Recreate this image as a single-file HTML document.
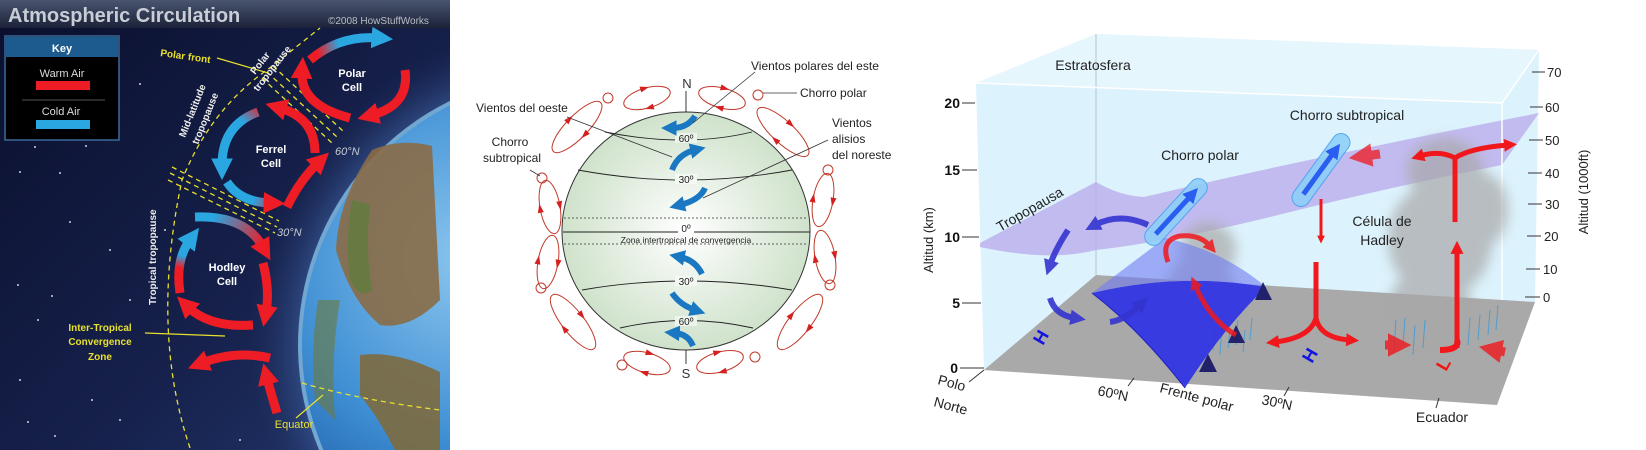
<!DOCTYPE html>
<html><head><meta charset="utf-8"><style>
html,body{margin:0;padding:0;background:#fff;width:1646px;height:450px;overflow:hidden;}
svg{display:block;}
text{font-family:"Liberation Sans","DejaVu Sans",sans-serif;}
</style></head><body>
<svg width="1646" height="450" viewBox="0 0 1646 450" xmlns="http://www.w3.org/2000/svg">
<defs>
<linearGradient id="space" x1="0" y1="0" x2="1" y2="1"><stop offset="0" stop-color="#0a0f2c"/><stop offset="0.6" stop-color="#16214c"/><stop offset="1" stop-color="#24386e"/></linearGradient>
<radialGradient id="glow" cx="570" cy="345" r="330" gradientUnits="userSpaceOnUse"><stop offset="0.78" stop-color="#3b5d9c" stop-opacity="0.9"/><stop offset="1" stop-color="#16214c" stop-opacity="0"/></radialGradient>
<radialGradient id="ocean" cx="470" cy="260" r="300" gradientUnits="userSpaceOnUse"><stop offset="0" stop-color="#8cc6ee"/><stop offset="0.6" stop-color="#3f8fd4"/><stop offset="1" stop-color="#1c5aa6"/></radialGradient>
<linearGradient id="title" x1="0" y1="0" x2="0" y2="1"><stop offset="0" stop-color="#4a5570"/><stop offset="1" stop-color="#1b2238"/></linearGradient>
<radialGradient id="globe" cx="0.5" cy="0.5" r="0.5"><stop offset="0" stop-color="#ffffff"/><stop offset="1" stop-color="#cfe2cb"/></radialGradient>
<filter id="blur" x="-50%" y="-50%" width="200%" height="200%"><feGaussianBlur stdDeviation="6"/></filter>
<marker id="ar" viewBox="0 0 10 10" refX="3" refY="5" markerWidth="2.4" markerHeight="2.4" orient="auto"><path d="M0,0L10,5L0,10z" fill="#ee1c25"/></marker>
<marker id="ab" viewBox="0 0 10 10" refX="3" refY="5" markerWidth="2.4" markerHeight="2.4" orient="auto"><path d="M0,0L10,5L0,10z" fill="#2aa6e0"/></marker>
<marker id="mb" viewBox="0 0 10 10" refX="3" refY="5" markerWidth="2.6" markerHeight="2.6" orient="auto"><path d="M0,0L10,5L0,10z" fill="#1a78c2"/></marker>
<marker id="rr" viewBox="0 0 10 10" refX="3" refY="5" markerWidth="2.6" markerHeight="2.6" orient="auto"><path d="M0,0L10,5L0,10z" fill="#f0181c"/></marker>
<marker id="bb" viewBox="0 0 10 10" refX="3" refY="5" markerWidth="2.6" markerHeight="2.6" orient="auto"><path d="M0,0L10,5L0,10z" fill="#3434d0"/></marker>
<marker id="jb" viewBox="0 0 10 10" refX="3" refY="5" markerWidth="3" markerHeight="3" orient="auto"><path d="M0,0L10,5L0,10z" fill="#2a5ef0"/></marker>
<linearGradient id="br1" gradientUnits="userSpaceOnUse" x1="300" y1="60" x2="390" y2="37"><stop offset="0.2" stop-color="#ee1c25"/><stop offset="0.45" stop-color="#2aa6e0"/></linearGradient>
<linearGradient id="br2" gradientUnits="userSpaceOnUse" x1="267" y1="110" x2="220" y2="173"><stop offset="0" stop-color="#ee1c25"/><stop offset="0.3" stop-color="#2aa6e0"/></linearGradient>
<linearGradient id="br3" gradientUnits="userSpaceOnUse" x1="227" y1="182" x2="285" y2="203"><stop offset="0.5" stop-color="#2aa6e0"/><stop offset="1" stop-color="#ee1c25"/></linearGradient>
<linearGradient id="br4" gradientUnits="userSpaceOnUse" x1="195" y1="217" x2="268" y2="255"><stop offset="0.2" stop-color="#2aa6e0"/><stop offset="0.9" stop-color="#ee1c25"/></linearGradient>
<linearGradient id="br5" gradientUnits="userSpaceOnUse" x1="180" y1="293" x2="193" y2="233"><stop offset="0.4" stop-color="#ee1c25"/><stop offset="0.6" stop-color="#2aa6e0"/></linearGradient>
</defs>

<!-- ================= LEFT PANEL ================= -->
<g>
<rect x="0" y="0" width="450" height="450" fill="url(#space)"/>
<rect x="0" y="0" width="450" height="450" fill="url(#glow)"/>
<g fill="#fff" opacity="0.8">
<circle cx="20" cy="172" r="1"/><circle cx="60" cy="173" r="1"/><circle cx="35" cy="147" r="1"/><circle cx="86" cy="146" r="1"/><circle cx="18" cy="285" r="1"/><circle cx="52" cy="296" r="1"/><circle cx="38" cy="320" r="1"/><circle cx="20" cy="380" r="1"/><circle cx="92" cy="400" r="1"/><circle cx="28" cy="422" r="1"/><circle cx="55" cy="436" r="1"/><circle cx="140" cy="84" r="1"/><circle cx="165" cy="230" r="1"/><circle cx="130" cy="300" r="1"/><circle cx="120" cy="420" r="1"/><circle cx="240" cy="440" r="1"/><circle cx="70" cy="222" r="1"/><circle cx="110" cy="250" r="1"/>
</g>
<path d="M319.1,450 A272,272 0 0 1 450,100.9 L450,450 Z" fill="#8fd0f4" opacity="0.7"/>
<path d="M323.4,450 A268,268 0 0 1 450,105.4 L450,450 Z" fill="url(#ocean)"/>
<path d="M372,150 Q400,138 432,146 L440,300 Q410,330 380,325 Q350,300 336,250 Q338,200 372,150Z" fill="#8a6b46" opacity="0.9"/>
<path d="M352,200 Q345,240 350,280 Q360,300 372,290 Q365,250 370,205Z" fill="#5f7d3c" opacity="0.8"/>
<path d="M360,355 Q395,350 440,372 L440,450 L395,450 Q380,420 360,395Z" fill="#7d6a3f" opacity="0.9"/>
<path d="M318,300 Q310,350 315,400 L335,420 Q330,360 340,300Z" fill="#6d7a3c" opacity="0.6"/>
<rect x="0" y="0" width="450" height="28" fill="url(#title)"/>
<text x="8" y="22" font-size="20" font-weight="bold" fill="#c9cdd6">Atmospheric Circulation</text>
<text x="328" y="24" font-size="10" fill="#b8bcc6">©2008 HowStuffWorks</text>
<rect x="5" y="36" width="114" height="104" fill="#000" stroke="#3a6a9a" stroke-width="1.5"/>
<rect x="6" y="37" width="112" height="20" fill="#1d5a8e"/>
<text x="62" y="52" font-size="11" font-weight="bold" fill="#fff" text-anchor="middle">Key</text>
<text x="62" y="77" font-size="11" fill="#ddd" text-anchor="middle">Warm Air</text>
<rect x="36" y="81" width="54" height="9" fill="#ee1c25"/>
<line x1="22" y1="100" x2="105" y2="100" stroke="#555"/>
<text x="61" y="115" font-size="11" fill="#ddd" text-anchor="middle">Cold Air</text>
<rect x="36" y="120" width="54" height="9" fill="#2aa6e0"/>
<g fill="none" stroke="#e8e030" stroke-width="1.3" stroke-dasharray="5,4">
<path d="M190,448 Q150,330 182,180 Q210,110 267,70 Q295,48 320,28"/>
<path d="M267,72 L337,137"/><path d="M262,78 L332,143"/><path d="M273,66 L343,131"/>
<path d="M170,173 L277,227"/><path d="M168,180 L275,233"/><path d="M172,167 L279,221"/>
<path d="M302,383 Q360,400 440,410"/>
</g>
<line x1="145" y1="333" x2="225" y2="336" stroke="#e8e030" stroke-width="1.2"/>
<line x1="217" y1="58" x2="268" y2="73" stroke="#e8e030" stroke-width="1.2"/>
<line x1="296" y1="418" x2="323" y2="395" stroke="#e8e030" stroke-width="1.2"/>
<g fill="none" stroke-width="9">
<path d="M350,118 Q300,105 302,72" stroke="#ee1c25" marker-end="url(#ar)"/>
<path d="M310,60 Q340,35 378,38" stroke="url(#br1)" marker-end="url(#ab)"/>
<path d="M405,70 Q410,105 372,115" stroke="#ee1c25" marker-end="url(#ar)"/>
<path d="M315,153 Q315,118 280,108" stroke="#ee1c25" marker-end="url(#ar)"/>
<path d="M258,112 Q222,125 222,165" stroke="url(#br2)" marker-end="url(#ab)"/>
<path d="M227,182 Q240,202 270,203" stroke="url(#br3)" marker-end="url(#ar)"/>
<path d="M287,207 Q300,180 318,163" stroke="#ee1c25" marker-end="url(#ar)"/>
<path d="M195,217 Q245,215 263,247" stroke="url(#br4)" marker-end="url(#ar)"/>
<path d="M263,263 Q270,290 266,312" stroke="#ee1c25" marker-end="url(#ar)"/>
<path d="M253,325 Q210,328 188,307" stroke="#ee1c25" marker-end="url(#ar)"/>
<path d="M180,293 Q175,260 190,240" stroke="url(#br5)" marker-end="url(#ab)"/>
<path d="M270,358 Q235,350 202,363" stroke="#ee1c25" marker-end="url(#ar)"/>
<path d="M277,413 Q270,390 267,378" stroke="#ee1c25" marker-end="url(#ar)"/>
</g>
<g font-size="11" font-weight="bold" fill="#fff" text-anchor="middle">
<text x="352" y="77">Polar</text><text x="352" y="91">Cell</text>
<text x="271" y="153">Ferrel</text><text x="271" y="167">Cell</text>
<text x="227" y="271">Hodley</text><text x="227" y="285">Cell</text>
</g>
<text x="160" y="56" font-size="10" font-weight="bold" fill="#e8e030" transform="rotate(8 160 56)">Polar front</text>
<g font-size="10" font-weight="bold" fill="#e8e030" text-anchor="middle">
<text x="100" y="331">Inter-Tropical</text><text x="100" y="345">Convergence</text><text x="100" y="360">Zone</text>
</g>
<text x="294" y="428" font-size="11" fill="#e8e030" text-anchor="middle">Equator</text>
<g font-size="10" font-weight="bold" fill="#eee">
<text x="0" y="0" transform="translate(255,75) rotate(-52)">Polar</text>
<text x="0" y="0" transform="translate(258,92) rotate(-52)">tropopause</text>
<text x="0" y="0" transform="translate(185,138) rotate(-68)">Mid-latitude</text>
<text x="0" y="0" transform="translate(198,145) rotate(-68)">tropopause</text>
<text x="0" y="0" transform="translate(156,305) rotate(-90)">Tropical tropopause</text>
</g>
<text x="335" y="155" font-size="11" fill="#c8ccd6" font-style="italic">60°N</text>
<text x="277" y="236" font-size="11" fill="#c8ccd6" font-style="italic">30°N</text>
</g>

<!-- ================= MIDDLE PANEL ================= -->
<g>
<ellipse cx="686" cy="231" rx="124" ry="119" fill="url(#globe)" stroke="#333" stroke-width="1"/>
<g fill="none" stroke="#222" stroke-width="0.9">
<path d="M605,132 Q686,148 752,132"/>
<path d="M578,170 Q686,190 792,170"/>
<path d="M563,232 L810,232"/>
<path d="M582,290 Q686,272 792,290"/>
<path d="M620,328 Q686,313 753,328"/>
<line x1="686" y1="91" x2="686" y2="112"/>
<line x1="686" y1="350" x2="686" y2="364"/>
</g>
<g stroke="#333" stroke-width="0.8" stroke-dasharray="2,2"><line x1="564" y1="218" x2="808" y2="218"/><line x1="564" y1="244" x2="808" y2="244"/></g>
<g font-size="10" fill="#222" text-anchor="middle">
<rect x="675" y="133" width="22" height="10" fill="#edf4ec"/><text x="686" y="142">60º</text>
<rect x="675" y="174" width="22" height="10" fill="#f5f9f4"/><text x="686" y="183">30º</text>
<rect x="678" y="224" width="16" height="9" fill="#fff"/><text x="686" y="232">0º</text>
<text x="686" y="243" font-size="8.5">Zona intertropical de convergencia</text>
<rect x="675" y="276" width="22" height="10" fill="#f5f9f4"/><text x="686" y="285">30º</text>
<rect x="675" y="316" width="22" height="10" fill="#edf4ec"/><text x="686" y="325">60º</text>
</g>
<text x="687" y="88" font-size="13" fill="#333" text-anchor="middle">N</text>
<text x="686" y="378" font-size="13" fill="#333" text-anchor="middle">S</text>
<g fill="none" stroke="#1a78c2" stroke-width="6">
<path d="M695,116 Q688,128 672,128" marker-end="url(#mb)"/>
<path d="M672,170 Q678,154 695,150" marker-end="url(#mb)"/>
<path d="M705,188 Q700,200 680,205" marker-end="url(#mb)"/>
<path d="M702,274 Q695,260 680,257" marker-end="url(#mb)"/>
<path d="M672,293 Q680,305 695,310" marker-end="url(#mb)"/>
<path d="M693,346 Q688,334 675,333" marker-end="url(#mb)"/>
</g>
<g fill="none" stroke="#c0392b" stroke-width="1">
<g transform="translate(647,98) rotate(-16)"><ellipse rx="24" ry="10"/><path d="M-4,-13L5,-10L-4,-7z M4,7L-5,10L4,13z" fill="#d52020" stroke="none"/></g>
<g transform="translate(722,98) rotate(15)"><ellipse rx="24" ry="10"/><path d="M-4,-13L5,-10L-4,-7z M4,7L-5,10L4,13z" fill="#d52020" stroke="none"/></g>
<g transform="translate(577,127) rotate(-46)"><ellipse rx="34" ry="11"/><path d="M-4,-14L5,-11L-4,-8z M4,8L-5,11L4,14z" fill="#d52020" stroke="none"/></g>
<g transform="translate(783,132) rotate(43)"><ellipse rx="34" ry="11"/><path d="M-4,-14L5,-11L-4,-8z M4,8L-5,11L4,14z" fill="#d52020" stroke="none"/></g>
<g transform="translate(550,207) rotate(80)"><ellipse rx="27" ry="10"/><path d="M-4,-13L5,-10L-4,-7z M4,7L-5,10L4,13z" fill="#d52020" stroke="none"/></g>
<g transform="translate(823,200) rotate(-80)"><ellipse rx="27" ry="10"/><path d="M-4,-13L5,-10L-4,-7z M4,7L-5,10L4,13z" fill="#d52020" stroke="none"/></g>
<g transform="translate(548,262) rotate(100)"><ellipse rx="27" ry="10"/><path d="M-4,-13L5,-10L-4,-7z M4,7L-5,10L4,13z" fill="#d52020" stroke="none"/></g>
<g transform="translate(825,257) rotate(-100)"><ellipse rx="27" ry="10"/><path d="M-4,-13L5,-10L-4,-7z M4,7L-5,10L4,13z" fill="#d52020" stroke="none"/></g>
<g transform="translate(573,322) rotate(52)"><ellipse rx="34" ry="11"/><path d="M-4,-14L5,-11L-4,-8z M4,8L-5,11L4,14z" fill="#d52020" stroke="none"/></g>
<g transform="translate(800,322) rotate(-52)"><ellipse rx="34" ry="11"/><path d="M-4,-14L5,-11L-4,-8z M4,8L-5,11L4,14z" fill="#d52020" stroke="none"/></g>
<g transform="translate(647,363) rotate(16)"><ellipse rx="24" ry="10"/><path d="M-4,-13L5,-10L-4,-7z M4,7L-5,10L4,13z" fill="#d52020" stroke="none"/></g>
<g transform="translate(720,362) rotate(-15)"><ellipse rx="24" ry="10"/><path d="M-4,-13L5,-10L-4,-7z M4,7L-5,10L4,13z" fill="#d52020" stroke="none"/></g>
<circle cx="608" cy="98" r="5"/><circle cx="758" cy="95" r="5"/><circle cx="542" cy="178" r="5"/><circle cx="828" cy="170" r="5"/><circle cx="830" cy="285" r="5"/><circle cx="541" cy="288" r="5"/><circle cx="622" cy="365" r="5"/><circle cx="755" cy="357" r="5"/>
</g>
<g stroke="#333" stroke-width="0.8" fill="none">
<line x1="755" y1="72" x2="693" y2="123"/>
<line x1="763" y1="93" x2="797" y2="93"/>
<line x1="567" y1="117" x2="672" y2="157"/>
<line x1="828" y1="140" x2="703" y2="198"/>
<line x1="530" y1="170" x2="540" y2="176"/>
</g>
<g font-size="12" fill="#222">
<text x="751" y="70">Vientos polares del este</text>
<text x="800" y="97">Chorro polar</text>
<text x="832" y="127">Vientos</text><text x="832" y="143">alisios</text><text x="832" y="159">del noreste</text>
<text x="476" y="112">Vientos del oeste</text>
<text x="510" y="146" text-anchor="middle">Chorro</text><text x="512" y="162" text-anchor="middle">subtropical</text>
</g>
</g>

<!-- ================= RIGHT PANEL ================= -->
<g>
<polygon points="976,83 1096,34 1539,50 1535,302 984,370" fill="#dcf2fc"/>
<polygon points="976,83 1096,34 1539,50 1502,103" fill="#e6f6fd"/>
<line x1="1096" y1="34" x2="1096" y2="275" stroke="#b8c4cc" stroke-width="1"/>
<polygon points="984,370 1096,275 1535,302 1497,405" fill="#a9a9a9"/>
<path d="M980,243 L1096,182 Q1120,196 1144,197 Q1300,160 1539,113 L1502,165 Q1400,185 1286,213 Q1180,240 1096,250 Q1050,262 980,247 Z" fill="#b9a8ec" opacity="0.75"/>
<g stroke="#fff" stroke-width="1.5" fill="none"><polyline points="976,83 1502,103 1539,50"/><line x1="1502" y1="103" x2="1502" y2="300"/></g>
<g filter="url(#blur)" fill="#a8a8a8" opacity="0.7">
<ellipse cx="1208" cy="250" rx="28" ry="28"/><ellipse cx="1200" cy="300" rx="36" ry="48"/><ellipse cx="1225" cy="330" rx="28" ry="32"/>
<ellipse cx="1445" cy="170" rx="38" ry="32"/><ellipse cx="1440" cy="240" rx="52" ry="58"/><ellipse cx="1430" cy="310" rx="42" ry="42"/><ellipse cx="1480" cy="210" rx="28" ry="38"/>
</g>
<g stroke="#3a9ad8" stroke-width="1" opacity="0.8">
<line x1="1215" y1="330" x2="1213" y2="350"/><line x1="1222" y1="325" x2="1220" y2="355"/><line x1="1230" y1="330" x2="1228" y2="348"/><line x1="1238" y1="320" x2="1236" y2="345"/><line x1="1245" y1="330" x2="1243" y2="352"/><line x1="1252" y1="318" x2="1250" y2="340"/>
<line x1="1396" y1="320" x2="1394" y2="350"/><line x1="1405" y1="318" x2="1403" y2="345"/><line x1="1415" y1="325" x2="1413" y2="355"/><line x1="1425" y1="320" x2="1423" y2="348"/><line x1="1470" y1="318" x2="1468" y2="345"/><line x1="1480" y1="315" x2="1478" y2="340"/><line x1="1490" y1="310" x2="1488" y2="335"/><line x1="1498" y1="305" x2="1496" y2="330"/>
</g>
<path d="M1092,293 Q1180,272 1266,287 Q1222,330 1185,388 Q1140,330 1092,293 Z" fill="#2b2fe4" opacity="0.9"/>
<path d="M1092,293 L1165,238 Q1222,250 1266,287 Q1180,272 1092,293 Z" fill="#6f7cf2" opacity="0.6"/>
<path d="M1092,293 Q1140,330 1185,388" fill="none" stroke="#2020c0" stroke-width="1"/>
<g fill="#22226a"><path d="M1255,300 L1263,282 L1272,300z"/><path d="M1228,343 L1236,325 L1245,343z"/><path d="M1199,372 L1208,354 L1217,372z"/></g>
<g fill="none" stroke="#3434d0" stroke-width="6" opacity="0.9">
<path d="M1148,225 Q1120,212 1095,225" marker-end="url(#bb)"/>
<path d="M1068,230 Q1055,250 1050,265" marker-end="url(#bb)"/>
<path d="M1050,298 Q1055,315 1075,318" marker-end="url(#bb)"/>
<path d="M1110,322 Q1125,320 1140,305" marker-end="url(#bb)"/>
</g>
<text x="0" y="0" transform="translate(1043,346) rotate(-60)" font-size="18" font-weight="bold" fill="#1414e0">H</text>
<text x="0" y="0" transform="translate(1312,364) rotate(-60)" font-size="18" font-weight="bold" fill="#1414e0">H</text>
<text x="0" y="0" transform="translate(1446,372) rotate(-60)" font-size="18" font-weight="bold" fill="#f01414">L</text>
<g transform="translate(1176,212) rotate(-47.5)"><rect x="-42" y="-9" width="84" height="18" rx="9" fill="#8fd0f8" stroke="#4aa0f0" opacity="0.9"/><line x1="-30" y1="0" x2="22" y2="0" stroke="#2a5ef0" stroke-width="5" marker-end="url(#jb)"/></g>
<g transform="translate(1321,170) rotate(-54)"><rect x="-43" y="-9" width="86" height="18" rx="9" fill="#8fd0f8" stroke="#4aa0f0" opacity="0.9"/><line x1="-30" y1="0" x2="22" y2="0" stroke="#2a5ef0" stroke-width="5" marker-end="url(#jb)"/></g>
<g fill="none" stroke="#f0181c" stroke-width="5">
<path d="M1321,199 L1321,238" stroke-width="3" marker-end="url(#rr)"/>
<path d="M1316,262 L1316,318 Q1310,338 1275,342" marker-end="url(#rr)"/>
<path d="M1316,318 Q1320,338 1350,340" marker-end="url(#rr)"/>
<path d="M1455,222 L1455,158 Q1440,150 1420,156" marker-end="url(#rr)"/>
<path d="M1455,158 Q1470,148 1508,145" marker-end="url(#rr)"/>
<path d="M1457,348 L1457,250" marker-end="url(#rr)"/>
<path d="M1380,154 L1365,156" stroke-width="9" opacity="0.75" marker-end="url(#rr)"/>
<path d="M1385,345 L1395,345" stroke-width="9" opacity="0.8" marker-end="url(#rr)"/>
<path d="M1505,352 L1495,350" stroke-width="9" opacity="0.8" marker-end="url(#rr)"/>
<path d="M1457,340 Q1460,350 1440,350" stroke-width="6"/>
<path d="M1168,262 Q1160,240 1180,236 Q1200,234 1210,246" opacity="0.85" marker-end="url(#rr)"/>
<path d="M1236,335 Q1210,320 1195,285" opacity="0.85" marker-end="url(#rr)"/>
</g>
<g stroke="#333" stroke-width="1" fill="none">
<line x1="962" y1="103" x2="975" y2="103"/><line x1="962" y1="170" x2="977" y2="170"/><line x1="962" y1="237" x2="979" y2="237"/><line x1="962" y1="303" x2="981" y2="303"/><line x1="960" y1="368" x2="984" y2="368"/>
<line x1="984" y1="370" x2="969" y2="382"/><line x1="1134" y1="378" x2="1128" y2="386"/><line x1="1289" y1="387" x2="1284" y2="396"/><line x1="1439" y1="398" x2="1436" y2="408"/>
<line x1="1532" y1="72" x2="1545" y2="72"/><line x1="1530" y1="107" x2="1543" y2="107"/><line x1="1529" y1="140" x2="1543" y2="140"/><line x1="1528" y1="173" x2="1542" y2="173"/><line x1="1528" y1="204" x2="1542" y2="204"/><line x1="1527" y1="236" x2="1541" y2="236"/><line x1="1526" y1="269" x2="1540" y2="269"/><line x1="1525" y1="297" x2="1540" y2="297"/>
</g>
<g font-size="14" font-weight="bold" fill="#111" text-anchor="end">
<text x="960" y="108">20</text><text x="960" y="175">15</text><text x="960" y="242">10</text><text x="960" y="308">5</text><text x="958" y="373">0</text>
</g>
<g font-size="13" fill="#222">
<text x="1547" y="77">70</text><text x="1545" y="112">60</text><text x="1545" y="145">50</text><text x="1545" y="178">40</text><text x="1545" y="209">30</text><text x="1544" y="241">20</text><text x="1543" y="274">10</text><text x="1543" y="302">0</text>
</g>
<text x="0" y="0" transform="translate(933,240) rotate(-90)" font-size="13" fill="#222" text-anchor="middle">Altitud (km)</text>
<text x="0" y="0" transform="translate(1588,192) rotate(-90)" font-size="13" fill="#222" text-anchor="middle">Altitud (1000ft)</text>
<g font-size="14" fill="#222">
<text x="1093" y="70" text-anchor="middle">Estratosfera</text>
<text x="1347" y="120" text-anchor="middle">Chorro subtropical</text>
<text x="1200" y="160" text-anchor="middle">Chorro polar</text>
<text x="1382" y="226" text-anchor="middle">Célula de</text>
<text x="1382" y="245" text-anchor="middle">Hadley</text>
<text x="0" y="0" transform="translate(1000,232) rotate(-30)">Tropopausa</text>
<text x="0" y="0" transform="translate(937,384) rotate(15)">Polo</text>
<text x="0" y="0" transform="translate(933,406) rotate(15)">Norte</text>
<text x="0" y="0" transform="translate(1097,395) rotate(12)">60ºN</text>
<text x="0" y="0" transform="translate(1159,392) rotate(15)">Frente polar</text>
<text x="0" y="0" transform="translate(1261,404) rotate(12)">30ºN</text>
<text x="1442" y="422" text-anchor="middle">Ecuador</text>
</g>
</g>
</svg>
</body></html>
